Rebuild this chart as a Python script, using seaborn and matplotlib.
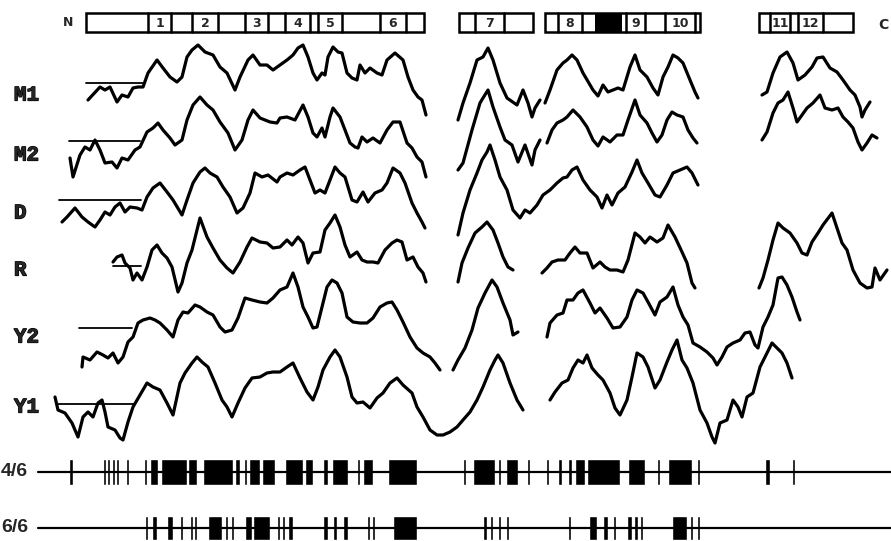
import numpy as np
import pandas as pd
import matplotlib.pyplot as plt
import seaborn as sns
from matplotlib.patches import Rectangle
import matplotlib.patheffects as pe

sns.set_style("white")
plt.rcParams['font.family'] = ['DejaVu Sans']

# Hydropathy profiles, values read relative to each row's reference line
# residue positions (x) and profile value (v, up is hydrophobic)
m1_x1 = [88,100,105,110,117,122,128,133,138,143,148,157,163,170,177,182,187,192,198,205,213,220,227,235,240,248,253,260,267,273,280,287,293,298,303,308,313,317,322,325,328,333,338,342,347,352,357,360,365,370,377,382,387,395,403,408,413,418,422,426]
m1_v1 = [-17,-4,-7,-4,-19,-12,-14,-5,-4,-4,10,23,15,6,1,6,26,33,38,31,28,16,10,-7,6,23,28,18,18,13,18,23,28,35,38,26,10,3,10,8,26,36,31,30,10,5,3,18,10,15,10,8,23,30,23,6,-7,-14,-17,-32]
m1_x2 = [458,463,470,477,483,488,493,500,507,517,523,528,532,535,540]
m1_v2 = [-37,-20,0,23,26,35,23,0,-15,-22,-7,-20,-34,-25,-17]
m1_x3 = [545,550,557,563,567,572,577,583,593,598,603,608,613,618,623,630,635,640,647,653,658,663,668,673,678,683,690,695,698]
m1_v3 = [-20,-7,13,20,23,28,23,10,-7,-13,-2,-9,-7,-5,-7,16,28,13,6,-5,-12,6,16,28,25,20,3,-9,-15]
m1_x4 = [762,767,773,780,787,793,798,805,812,817,823,830,837,843,850,855,860,862,865,870]
m1_v4 = [-12,-9,10,26,31,20,3,8,16,25,26,15,11,3,-7,-12,-24,-34,-27,-19]

m2_x1 = [70,73,80,85,90,95,100,105,112,117,122,128,135,140,147,153,158,163,170,175,182,187,193,200,207,213,220,228,235,242,248,253,260,270,277,280,287,295,303,308,313,317,322,325,330,333,340,345,350,355,358,362,367,373,380,387,393,400,407,412,417,422,426]
m2_v1 = [-17,-36,-14,-6,-9,1,-9,-22,-21,-27,-17,-19,-9,-6,9,13,18,11,3,-4,1,21,36,44,36,31,19,8,-9,1,21,31,23,19,18,23,24,21,36,24,8,4,13,4,24,33,24,11,-2,-6,-7,4,-1,3,-2,11,19,19,-2,-7,-16,-21,-36]
m2_x2 = [458,463,472,480,483,488,493,500,505,512,518,525,532,535,540]
m2_v2 = [-29,-22,11,38,43,51,34,14,1,-4,-21,-4,-24,-9,1]
m2_x3 = [547,552,557,563,567,573,580,587,593,598,603,610,617,623,628,635,640,647,652,657,662,667,672,677,683,688,693,697]
m2_v3 = [-2,11,18,21,24,31,24,14,1,-5,4,-1,6,6,21,41,26,18,8,-1,6,21,29,26,24,11,3,-2]
m2_x4 = [762,767,773,778,783,788,793,797,802,807,813,820,825,832,838,843,848,853,858,862,867,872,877]
m2_v4 = [1,9,28,38,41,49,33,19,26,33,38,46,33,31,33,24,19,13,-1,-9,-2,6,3]

d_x1 = [62,67,75,82,88,95,100,105,110,115,120,125,130,137,142,147,153,160,167,173,182,187,193,200,205,210,217,223,230,237,243,250,255,262,268,277,280,287,293,300,305,310,315,320,325,330,335,340,345,352,357,363,368,375,382,387,393,400,405,412,417,422,425]
d_v1 = [-22,-17,-8,-17,-22,-27,-20,-12,-15,-7,-3,-12,-7,-8,-10,3,12,17,8,0,-15,0,17,28,32,27,23,13,3,-13,-8,7,27,23,25,18,23,27,25,30,33,20,7,10,7,20,33,27,23,0,-2,8,-2,7,10,17,32,27,17,-3,-13,-22,-28]
d_x2 = [458,463,470,477,482,487,490,495,500,507,513,520,525,530,537,543,550,557,563,567,572,577,583,590,597,602,607,612,618,625,632,637,642,648,655,660,667,673,680,687,692,698]
d_v2 = [-35,-13,10,27,40,48,55,40,23,10,-10,-18,-10,-13,-5,5,10,17,22,23,30,33,20,10,3,-8,5,-5,7,13,28,40,27,17,5,3,15,27,30,33,27,15]

r_x1 = [113,117,122,125,130,133,137,142,147,152,157,162,167,172,178,182,187,192,200,207,213,220,227,233,240,247,252,260,267,273,280,287,292,298,303,308,313,320,325,330,335,340,345,350,357,362,367,373,378,385,392,397,402,407,413,418,423,426]
r_v1 = [4,9,11,3,-2,-14,-7,-14,-1,16,21,13,8,-1,-26,-17,3,16,48,29,18,6,-2,-7,4,19,28,24,23,18,19,26,21,29,23,3,13,14,36,43,51,39,21,9,14,6,4,4,3,16,23,26,24,6,9,-1,-7,-16]
r_x2 = [458,462,468,475,482,487,493,498,503,508,513]
r_v2 = [-16,3,18,33,39,44,36,23,9,-1,-4]
r_x3 = [542,547,552,558,565,570,575,580,587,593,600,605,610,617,623,628,635,640,645,650,657,663,668,675,682,687,692,695]
r_v3 = [-7,-2,4,6,6,13,19,13,13,-2,4,-1,-4,-4,-6,6,33,29,23,29,24,28,41,29,14,3,-17,-22]
r_x4 = [759,763,768,773,778,783,790,797,802,807,812,818,823,832,837,842,847,853,860,867,872,875,880,887]
r_v4 = [-22,-12,6,26,43,38,33,23,13,11,24,33,41,53,38,23,16,-4,-17,-22,-21,-2,-14,-4]

y2_x1 = [82,83,90,97,103,108,113,118,123,128,133,138,143,150,155,160,167,173,178,183,188,195,200,207,213,220,225,232,238,245,252,260,267,273,280,287,293,298,303,308,313,317,322,327,332,337,342,347,353,360,367,373,380,387,392,397,403,410,417,423,430,435,440]
y2_v1 = [-39,-29,-32,-24,-27,-30,-25,-35,-29,-14,-9,5,8,10,8,5,-2,-9,8,16,15,23,21,16,13,1,-4,-2,10,30,28,26,25,30,38,41,55,41,21,11,0,1,21,41,48,45,35,11,6,5,5,10,21,25,26,18,6,-9,-20,-25,-29,-35,-42]
y2_x2 = [453,458,465,472,478,485,492,497,503,510,513,518]
y2_v2 = [-42,-32,-20,-2,20,35,48,41,25,8,-7,-4]
y2_x3 = [547,550,557,563,567,573,578,583,590,595,600,607,613,620,627,632,637,643,648,655,660,667,673,678,683,688,693,700,707,713,717,722,727,733,740,745,750,755,758,763,768,773,778,782,787,792,797,800]
y2_v3 = [-9,5,13,15,28,28,35,38,25,15,20,10,0,1,11,28,38,35,26,13,26,31,41,23,11,3,-15,-19,-24,-30,-37,-29,-19,-15,-12,-5,-4,-17,-20,1,11,23,50,51,43,31,16,8]

y1_x1 = [55,58,65,72,78,83,88,93,98,102,105,108,115,120,123,128,133,140,147,153,160,167,173,180,185,192,197,202,208,215,222,227,232,238,245,252,260,267,273,280,287,293,300,307,313,318,323,330,335,340,347,352,357,363,370,377,383,390,397,403,412,417,423,430,437,443,450,457,463,470,477,483,490,495,498,503,510,517,523]
y1_v1 = [7,-6,-9,-19,-33,-13,-8,-13,1,4,-8,-23,-26,-34,-36,-18,-3,9,21,17,14,1,-11,21,31,41,47,42,37,21,4,-3,-13,1,16,26,27,31,32,32,37,41,26,12,4,17,34,47,54,47,27,7,1,2,-4,6,11,21,26,19,11,-3,-13,-26,-31,-31,-28,-23,-16,-8,4,17,34,44,49,41,21,4,-6]
y1_x2 = [550,555,562,568,573,578,583,587,592,598,603,610,615,620,627,632,637,643,648,655,660,667,672,677,682,687,693,700,707,712,715,720,727,733,738,742,747,753,760,765,772,777,782,787,792]
y1_v2 = [4,12,21,24,36,44,41,49,36,29,24,11,-4,-11,4,27,51,47,37,16,24,42,54,64,44,36,21,-6,-19,-33,-39,-19,-16,4,-3,-13,7,11,37,47,61,56,51,41,26]

rows = ["M1", "M2", "D", "R", "Y2", "Y1"]
profiles = {
    "M1": [(m1_x1, m1_v1), (m1_x2, m1_v2), (m1_x3, m1_v3), (m1_x4, m1_v4)],
    "M2": [(m2_x1, m2_v1), (m2_x2, m2_v2), (m2_x3, m2_v3), (m2_x4, m2_v4)],
    "D": [(d_x1, d_v1), (d_x2, d_v2)],
    "R": [(r_x1, r_v1), (r_x2, r_v2), (r_x3, r_v3), (r_x4, r_v4)],
    "Y2": [(y2_x1, y2_v1), (y2_x2, y2_v2), (y2_x3, y2_v3)],
    "Y1": [(y1_x1, y1_v1), (y1_x2, y1_v2)],
}
# extent of the reference line drawn at the N-terminus of each profile
ref_start = [86, 69, 59, 113, 79, 57]
ref_end = [143, 140, 141, 141, 132, 135]

# topology map: domains and transmembrane segments
domains = [(86, 424), (459, 533), (545, 700), (759, 853)]
tm_labels = ["1", "2", "3", "4", "5", "6", "7", "8", "9", "10", "11", "12"]
tm_start = [148, 192, 245, 285, 318, 380, 475, 558, 626, 665, 770, 798]
tm_end = [171, 218, 268, 310, 342, 406, 504, 582, 645, 695, 790, 823]
filled_region = (595, 622)

# residues conserved in 4 of 6 and 6 of 6 sequences
cons4 = [(69,73),(103,106),(107,110),(112,115),(116,119),(126,129),(144,147),(150,158),(161,187),(188,197),
         (203,233),(235,240),(244,247),(249,260),(262,275),(285,303),(305,313),(323,328),(332,348),(357,360),
         (363,373),(388,417),(463,465),(473,495),(498,501),(506,518),(527,529),(546,548),(558,562),(568,572),
         (575,585),(587,620),(628,645),(657,660),(668,692),(697,699),(765,770),(792,795)]
cons6 = [(145,148),(152,157),(167,173),(180,183),(190,193),(194,197),(208,222),(225,228),(231,234),(245,252),
         (253,270),(277,279),(282,284),(288,293),(323,328),(333,337),(343,348),(367,369),(372,374),(393,417),
         (483,487),(490,493),(498,501),(506,508),(568,571),(589,597),(603,608),(613,616),(627,632),(634,638),
         (640,643),(672,687),(690,693),(697,699)]

# layout
W, H = 891, 541
base = {"M1": 83, "M2": 141, "D": 200, "R": 266, "Y2": 328, "Y1": 404}
label_y = {"M1": 95, "M2": 155, "D": 213, "R": 270, "Y2": 337, "Y1": 407}

recs = []
for row in rows:
    for i, (xs, vs) in enumerate(profiles[row]):
        for x, v in zip(xs, vs):
            recs.append({"x": x, "y": base[row] - v, "unit": f"{row}_{i}"})
df = pd.DataFrame(recs)

fig = plt.figure(figsize=(W / 100, H / 100), dpi=100)
ax = fig.add_axes([0, 0, 1, 1])
sns.lineplot(data=df, x="x", y="y", units="unit", estimator=None, sort=False,
             color="black", lw=2.3, legend=False, ax=ax)

heavy = [pe.withStroke(linewidth=0.9, foreground="black")]
for row, s, e in zip(rows, ref_start, ref_end):
    ax.plot([s, e], [base[row], base[row]], color="black", lw=1.3)
    ax.text(14, label_y[row], row, family="Liberation Mono", fontweight="bold",
            fontsize=15, va="center", ha="left", path_effects=heavy)

# topology boxes
box_top, box_h = 13, 19
for s, e in domains:
    ax.add_patch(Rectangle((s, box_top), e - s, box_h, fill=False, ec="black", lw=1.8))
for lab, s, e in zip(tm_labels, tm_start, tm_end):
    ax.plot([s, s], [box_top, box_top + box_h], color="black", lw=1.8)
    ax.plot([e, e], [box_top, box_top + box_h], color="black", lw=1.8)
    ax.text((s + e) / 2, box_top + box_h / 2 + 1, lab, fontsize=9, fontweight="bold",
            ha="center", va="center")
ax.add_patch(Rectangle((filled_region[0], box_top), filled_region[1] - filled_region[0], box_h,
                       color="black", lw=0))
ax.text(68, 23, "N", fontsize=9, fontweight="bold", ha="center", va="center")
ax.text(878, 25, "C", fontsize=10, fontweight="bold", ha="left", va="center")

# conservation tracks
for lab, segs, ly, tick_h in [("4/6", cons4, 472, 13), ("6/6", cons6, 528, 12)]:
    ax.plot([38, W], [ly, ly], color="black", lw=1.6)
    ax.broken_barh([(s, max(e - s, 2.6)) for s, e in segs], (ly - tick_h, 2 * tick_h),
                   facecolors="black")
    ax.text(1, ly, lab, family="Liberation Sans", fontweight="bold", fontsize=14,
            ha="left", va="center")

ax.set_xlim(0, W)
ax.set_ylim(H, 0)
ax.axis("off")
fig.savefig("out.png", dpi=100)
